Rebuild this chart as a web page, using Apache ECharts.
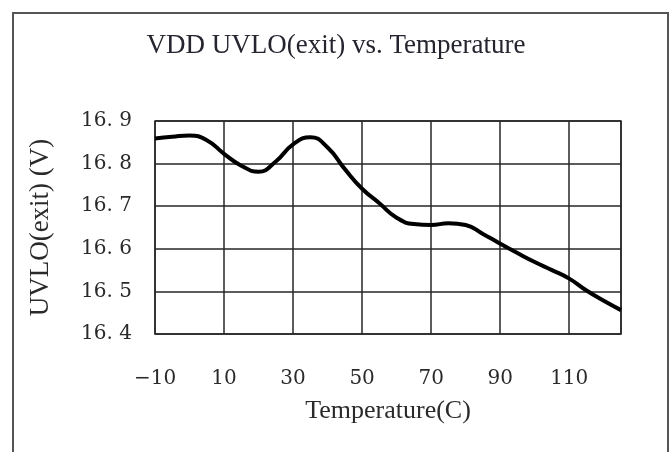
<!DOCTYPE html>
<html>
<head>
<meta charset="utf-8">
<script src="https://cdn.jsdelivr.net/npm/echarts@6/dist/echarts.min.js"></script>
<style>
html,body{margin:0;padding:0;background:#fff;}
#chart{width:672px;height:452px;}
</style>
</head>
<body>
<div id="chart"></div>
<script>
var titleText = 'VDD UVLO(exit) vs. Temperature';
var xName = 'Temperature(C)';
var yName = 'UVLO(exit) (V)';
var temps = [-10, -5, 0, 5, 10, 15, 20, 25, 30, 35, 40, 45, 50, 55, 60, 65, 70, 75, 80, 85, 90, 95, 100, 105, 110, 115, 120, 125];
var uvlo = [16.859, 16.863, 16.866, 16.855, 16.823, 16.795, 16.781, 16.805, 16.845, 16.862, 16.838, 16.787, 16.741, 16.707, 16.673, 16.658, 16.656, 16.660, 16.656, 16.635, 16.612, 16.590, 16.569, 16.550, 16.530, 16.502, 16.478, 16.456];
var xTicks = [-10, 10, 30, 50, 70, 90, 110];
var yTicks = [16.4, 16.5, 16.6, 16.7, 16.8, 16.9];

var data = temps.map(function (t, i) { return [t, uvlo[i]]; });
var chart = echarts.init(document.getElementById('chart'), null, {renderer: 'canvas'});
var gridColor = '#262626';
var textColor = '#2a2a2a';
chart.setOption({
  animation: false,
  backgroundColor: '#fff',
  title: {
    text: titleText,
    left: 'center',
    top: 27,
    textStyle: {fontFamily: 'Liberation Serif', fontSize: 27, fontWeight: 'normal', color: '#25252f'}
  },
  graphic: [{
    type: 'rect',
    shape: {x: 13, y: 13, width: 655, height: 460},
    style: {fill: 'none', stroke: '#555', lineWidth: 2},
    silent: true
  }],
  grid: {left: 155, right: 51, top: 121, bottom: 118, show: true, borderColor: gridColor, borderWidth: 1.5},
  xAxis: {
    type: 'value', min: -10, max: 125, interval: 20,
    name: xName, nameLocation: 'middle', nameGap: 64,
    nameTextStyle: {fontFamily: 'Liberation Serif', fontSize: 26, color: textColor},
    axisLine: {show: false}, axisTick: {show: false},
    axisLabel: {
      margin: 35, fontFamily: 'DejaVu Serif', fontSize: 20, color: textColor,
      formatter: function (v) { return xTicks.indexOf(v) >= 0 ? String(v).replace('-', '\u2212') : ''; }
    },
    splitLine: {show: true, lineStyle: {color: gridColor, width: 1.5}}
  },
  yAxis: {
    type: 'value', min: 16.4, max: 16.9, interval: 0.1,
    name: yName, nameLocation: 'middle', nameGap: 101, nameRotate: 90,
    nameTextStyle: {fontFamily: 'Liberation Serif', fontSize: 27, color: textColor},
    axisLine: {show: false}, axisTick: {show: false},
    axisLabel: {
      margin: 23, fontFamily: 'DejaVu Serif', fontSize: 20, color: textColor,
      formatter: function (v) {
        var r = Math.round(v * 10) / 10;
        return yTicks.indexOf(r) >= 0 ? r.toFixed(1).replace('.', '. ') : '';
      }
    },
    splitLine: {show: true, lineStyle: {color: gridColor, width: 1.5}}
  },
  series: [{
    type: 'line',
    data: data,
    smooth: 0.5,
    showSymbol: false,
    lineStyle: {color: '#000', width: 4},
    z: 5
  }]
});
</script>
</body>
</html>
